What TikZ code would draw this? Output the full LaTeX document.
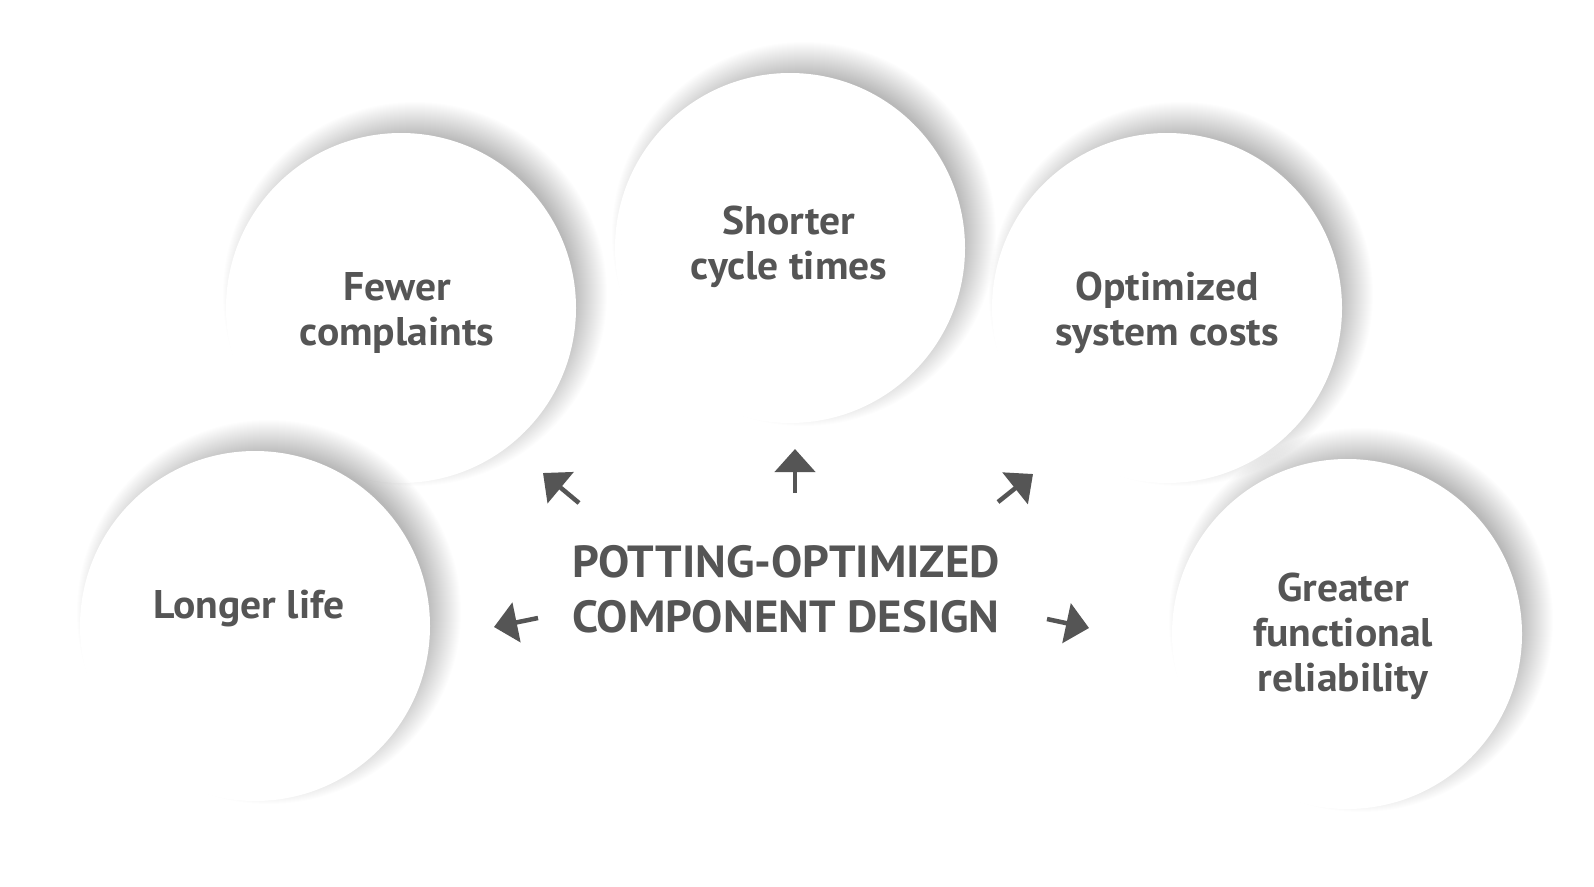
\documentclass[tikz,border=0pt]{standalone}
\usepackage{fontspec}
\setmainfont{PT Sans}
\newfontfamily\widefont[FakeStretch=1.04]{PT Sans}
\usetikzlibrary{arrows.meta}
\definecolor{txt}{RGB}{85,85,85}
\tikzset{
  bubble/.style={circle, fill=white, minimum size=350pt, inner sep=0pt},
  shadowring/.style={fill=black, fill opacity=0.0072},
  lbl/.style={text=txt, font=\widefont\fontsize{40}{45}\selectfont\bfseries, align=center, inner sep=0pt},
  ttl/.style={text=txt, font=\widefont\fontsize{45}{55}\selectfont\bfseries, align=center, inner sep=0pt},
  pointer/.style={draw=txt, line width=4.5pt, -{Triangle[width=40pt,length=23pt]}, fill=txt}
}
\newcommand\softshadow[1]{%
  \foreach \r in {158,...,192} {\fill[shadowring] ([shift={(14,-14)}]#1) circle (\r pt);}}
\begin{document}
\begin{tikzpicture}[x=1pt,y=-1pt]
\useasboundingbox[fill=white] (0,0) rectangle (1594,886);
\coordinate (pF) at (401,308);
\coordinate (pS) at (790,248);
\coordinate (pO) at (1167,308);
\coordinate (pL) at (255,626);
\coordinate (pG) at (1347,634);
% circles (back row first)
\softshadow{pF} \node[bubble] (cF) at (pF) {};
\softshadow{pS} \node[bubble] (cS) at (pS) {};
\softshadow{pO} \node[bubble] (cO) at (pO) {};
\softshadow{pL} \node[bubble] (cL) at (pL) {};
\softshadow{pG} \node[bubble] (cG) at (pG) {};
% labels
\node[lbl] (tF) at (397,313) {Fewer\\complaints};
\node[lbl] (tS) at (789,247) {Shorter\\cycle times};
\node[lbl] (tO) at (1167,313) {Optimized\\system costs};
\node[lbl] (tL) at (249,609) {Longer life};
\node[lbl] (tG) at (1343,636) {Greater\\functional\\reliability};
\node[ttl] (title) at (786,589) {POTTING-OPTIMIZED\\COMPONENT DESIGN};
% arrows
\coordinate (a1s) at (579,503); \coordinate (a1e) at (543,473);
\coordinate (a2s) at (795,493); \coordinate (a2e) at (795,449);
\coordinate (a3s) at (998,502); \coordinate (a3e) at (1033,474);
\coordinate (a4s) at (538,618); \coordinate (a4e) at (494,627);
\coordinate (a5s) at (1047,619); \coordinate (a5e) at (1089,628);
\draw[pointer] (a1s) -- (a1e);
\draw[pointer] (a2s) -- (a2e);
\draw[pointer] (a3s) -- (a3e);
\draw[pointer] (a4s) -- (a4e);
\draw[pointer] (a5s) -- (a5e);
\end{tikzpicture}
\end{document}
